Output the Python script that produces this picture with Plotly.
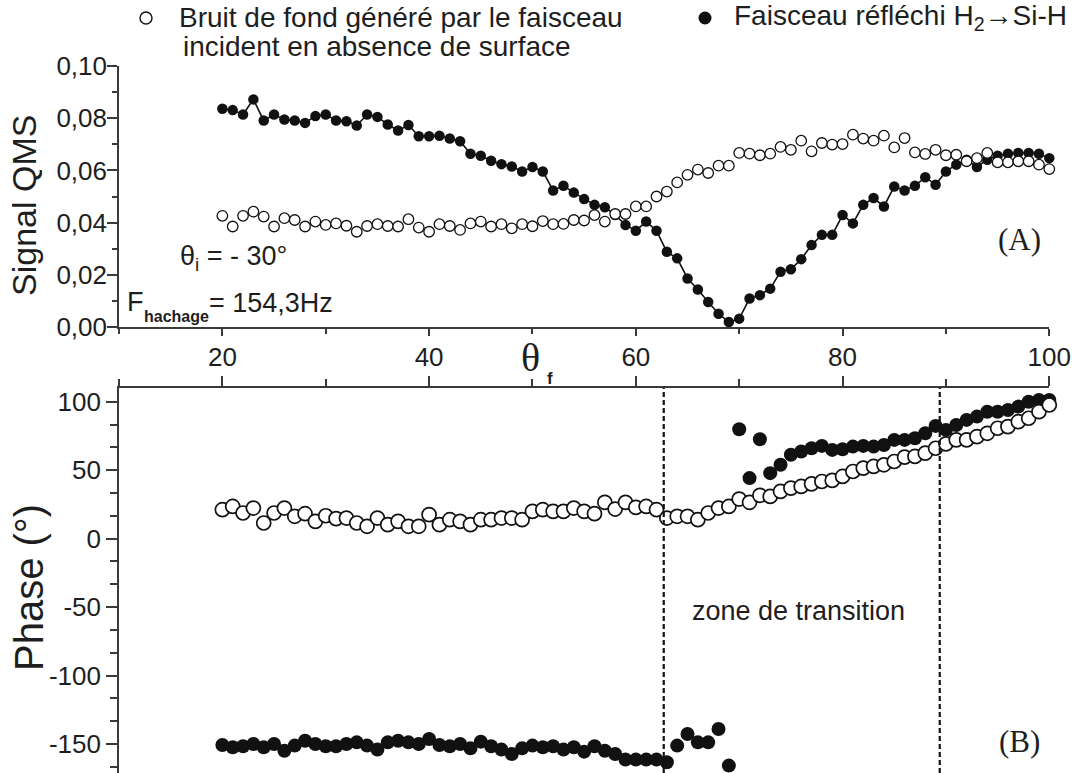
import plotly.graph_objects as go

# Final angle theta_f (degrees), one measurement per degree
theta_f = list(range(20, 101))

# QMS signal: background generated by the incident beam (no surface)
qms_background = [
    0.0426, 0.0385, 0.0426, 0.0442, 0.0423, 0.0385, 0.0417, 0.0410, 0.0385, 0.0404,
    0.0391, 0.0397, 0.0388, 0.0365, 0.0387, 0.0394, 0.0387, 0.0385, 0.0413, 0.0381,
    0.0365, 0.0394, 0.0387, 0.0372, 0.0397, 0.0404, 0.0385, 0.0394, 0.0378, 0.0394,
    0.0386, 0.0406, 0.0394, 0.0395, 0.0410, 0.0408, 0.0429, 0.0404, 0.0433, 0.0433,
    0.0462, 0.0462, 0.0500, 0.0519, 0.0554, 0.0583, 0.0603, 0.0590, 0.0618, 0.0618,
    0.0667, 0.0664, 0.0658, 0.0664, 0.0690, 0.0679, 0.0714, 0.0673, 0.0705, 0.0699,
    0.0701, 0.0737, 0.0722, 0.0714, 0.0733, 0.0688, 0.0724, 0.0669, 0.0663, 0.0679,
    0.0658, 0.0660, 0.0635, 0.0647, 0.0667, 0.0631, 0.0631, 0.0635, 0.0635, 0.0622,
    0.0605,
]

# QMS signal: reflected beam H2 -> Si-H
qms_reflected = [
    0.0836, 0.0831, 0.0814, 0.0872, 0.0791, 0.0814, 0.0795, 0.0791, 0.0782, 0.0808,
    0.0814, 0.0791, 0.0788, 0.0772, 0.0814, 0.0805, 0.0776, 0.0753, 0.0774, 0.0731,
    0.0731, 0.0733, 0.0722, 0.0712, 0.0664, 0.0656, 0.0637, 0.0624, 0.0615, 0.0596,
    0.0613, 0.0596, 0.0523, 0.0541, 0.0515, 0.0490, 0.0468, 0.0459, 0.0429, 0.0391,
    0.0369, 0.0404, 0.0369, 0.0288, 0.0263, 0.0186, 0.0144, 0.0096, 0.0051, 0.0019,
    0.0032, 0.0109, 0.0122, 0.0147, 0.0212, 0.0221, 0.0260, 0.0314, 0.0353, 0.0353,
    0.0429, 0.0397, 0.0468, 0.0494, 0.0462, 0.0538, 0.0523, 0.0541, 0.0574, 0.0545,
    0.0596, 0.0622, 0.0641, 0.0613, 0.0641, 0.0656, 0.0664, 0.0667, 0.0667, 0.0664,
    0.0647,
]

# Phase (degrees) of the background signal
phase_background = [
    21.1, 23.5, 18.7, 22.3, 11.4, 18.7, 22.3, 16.3, 18.2, 12.6,
    16.7, 14.6, 15.0, 11.4, 9.0, 15.0, 10.2, 12.6, 9.0, 9.0,
    17.5, 10.2, 13.8, 12.6, 10.2, 13.8, 13.8, 15.0, 15.0, 13.8,
    19.9, 21.1, 19.9, 19.9, 22.3, 19.9, 18.2, 26.5, 21.6, 26.5,
    22.8, 23.5, 21.1, 15.0, 16.3, 16.3, 13.8, 18.7, 22.3, 23.5,
    28.9, 26.5, 31.6, 30.8, 34.5, 36.9, 38.1, 40.0, 41.7, 42.5,
    45.4, 49.0, 51.5, 52.7, 53.9, 56.3, 59.5, 60.0, 62.4, 66.0,
    69.2, 72.1, 72.1, 74.5, 76.9, 80.6, 81.8, 85.4, 87.9, 92.7,
    97.6,
]

# Phase (degrees) of the reflected beam
phase_reflected = [
    -150.7, -152.4, -151.7, -150.0, -152.4, -150.0, -154.9, -151.2, -147.6, -150.0,
    -151.7, -151.7, -150.0, -148.8, -151.2, -154.1, -148.8, -147.6, -148.8, -150.0,
    -146.4, -150.7, -151.7, -150.0, -153.2, -148.3, -151.7, -154.1, -157.3, -153.2,
    -151.2, -152.4, -151.7, -154.1, -152.4, -155.6, -151.7, -154.9, -157.3, -161.4,
    -161.4, -161.4, -161.4, -163.3, -151.2, -142.7, -148.8, -148.8, -139.1, -165.8,
    79.9, 44.2, 72.6, 47.8, 53.9, 61.2, 63.6, 66.0, 67.7, 64.8,
    65.3, 67.2, 67.7, 67.2, 68.4, 72.1, 72.1, 73.3, 76.9, 82.3,
    79.4, 83.0, 86.7, 89.1, 92.7, 92.7, 93.9, 96.4, 100.0, 101.2,
    101.2,
]

# Limits of the transition zone (degrees)
transition_bounds = [62.7, 89.4]

# Tick labels of the phase axis
phase_ticks = [-150, -100, -50, 0, 50, 100]
phase_ticktext = ["-150", "-100", "-50", "0", "50", "100"]

W, H = 1072, 773
INK = "#111111"
AXIS = "#3a3a3a"
TXT = "#1e1e1e"
SANS = "Liberation Sans, Arial, sans-serif"
SERIF = "Liberation Serif, Times New Roman, serif"


def px(x):
    return x / W


def py(y):
    return 1 - y / H


fig = go.Figure()

# (A) QMS signal
fig.add_trace(go.Scatter(
    x=theta_f, y=qms_reflected, mode="lines+markers", xaxis="x", yaxis="y",
    line=dict(color=INK, width=1.6),
    marker=dict(symbol="circle", size=10.5, color=INK, line=dict(width=0)),
    cliponaxis=False, showlegend=False,
))
fig.add_trace(go.Scatter(
    x=theta_f, y=qms_background, mode="markers", xaxis="x", yaxis="y",
    marker=dict(symbol="circle", size=10.5, color="white", line=dict(color=INK, width=1.3)),
    cliponaxis=False, showlegend=False,
))

# (B) Phase
fig.add_trace(go.Scatter(
    x=theta_f, y=phase_reflected, mode="markers", xaxis="x2", yaxis="y2",
    marker=dict(symbol="circle", size=14, color=INK, line=dict(width=0)),
    cliponaxis=False, showlegend=False,
))
fig.add_trace(go.Scatter(
    x=theta_f, y=phase_background, mode="markers", xaxis="x2", yaxis="y2",
    marker=dict(symbol="circle", size=14, color="white", line=dict(color=INK, width=1.7)),
    cliponaxis=False, showlegend=False,
))

shapes = []
for xb in transition_bounds:
    shapes.append(dict(
        type="line", xref="x2", yref="y2 domain", x0=xb, x1=xb, y0=0, y1=1,
        line=dict(color=INK, width=2.2, dash="5px,3px"),
    ))

# Legend symbols
shapes.append(dict(
    type="circle", xref="paper", yref="paper",
    xsizemode="pixel", ysizemode="pixel",
    xanchor=px(146), yanchor=py(18), x0=-6, x1=6, y0=-6, y1=6,
    fillcolor="white", line=dict(color=INK, width=1.4),
))
shapes.append(dict(
    type="circle", xref="paper", yref="paper",
    xsizemode="pixel", ysizemode="pixel",
    xanchor=px(705), yanchor=py(18), x0=-6.5, x1=6.5, y0=-6.5, y1=6.5,
    fillcolor=INK, line=dict(color=INK, width=0),
))


def note(text, x, y, size, family=SANS, xanchor="left", angle=0, color=TXT):
    return dict(
        text=text, x=px(x), y=py(y), xref="paper", yref="paper",
        xanchor=xanchor, yanchor="middle", showarrow=False, textangle=angle,
        font=dict(family=family, size=size, color=color),
    )


annotations = [
    note("Bruit de fond généré par le faisceau", 177, 18, 28),
    note("incident en absence de surface", 181, 46, 28),
    note("Faisceau réfléchi H<sub>2</sub>→Si-H", 732, 18, 28),
    note("θ<sub>i</sub> = - 30°", 178, 258, 27),
    note("F", 125, 302, 27),
    note("<b>hachage</b>", 142, 316, 16),
    note("= 154,3Hz", 207, 303, 27),
    note("(A)", 1019, 240, 31, family=SERIF, xanchor="center"),
    note("(B)", 1019, 741, 31, family=SERIF, xanchor="center"),
    note("zone de transition", 798, 611, 27, xanchor="center"),
    note("θ", 530, 358, 40, family=SERIF, xanchor="center"),
    note("<b>f</b>", 550, 378, 17, xanchor="center"),
    note("Signal QMS", 24, 206, 34, xanchor="center", angle=-90),
    note("Phase (°)", 29, 588, 40, xanchor="center", angle=-90),
]

x_domain = [px(119), px(1049.3)]
common_axis = dict(
    showline=True, linecolor=AXIS, linewidth=1.6, ticks="outside",
    tickcolor=AXIS, tickwidth=1.6, showgrid=False, zeroline=False,
    tickfont=dict(family=SANS, size=26, color=TXT),
)

fig.update_layout(
    width=W, height=H,
    margin=dict(l=0, r=0, t=0, b=0, autoexpand=False),
    paper_bgcolor="white", plot_bgcolor="white",
    separators=",.",
    showlegend=False,
    xaxis=dict(
        **common_axis, domain=x_domain, range=[10, 100], anchor="y",
        tick0=0, dtick=20, ticklen=7, showticklabels=False,
        minor=dict(ticks="outside", tick0=0, dtick=10, ticklen=5,
                   tickcolor=AXIS, tickwidth=1.6, showgrid=False),
    ),
    yaxis=dict(
        **common_axis, domain=[py(327), py(66)], range=[0, 0.10], anchor="x",
        tick0=0, dtick=0.02, tickformat=".2f", ticklen=10, ticklabelstandoff=-5,
        minor=dict(ticks="outside", tick0=0, dtick=0.01, ticklen=5,
                   tickcolor=AXIS, tickwidth=1.6, showgrid=False),
    ),
    xaxis2=dict(
        **common_axis, domain=x_domain, range=[10, 100], anchor="y2", side="top",
        tick0=0, dtick=20, ticklen=10,
        minor=dict(ticks="outside", tick0=0, dtick=10, ticklen=7,
                   tickcolor=AXIS, tickwidth=1.6, showgrid=False),
    ),
    yaxis2=dict(
        **common_axis, domain=[0, py(388)], range=[-171.2, 110], anchor="x2",
        tickmode="array", tickvals=phase_ticks, ticktext=phase_ticktext, ticklen=11,
        minor=dict(ticks="outside", tick0=0, dtick=50 / 3, ticklen=7,
                   tickcolor=AXIS, tickwidth=1.6, showgrid=False),
    ),
    shapes=shapes,
    annotations=annotations,
)

fig.write_html("out.html")
